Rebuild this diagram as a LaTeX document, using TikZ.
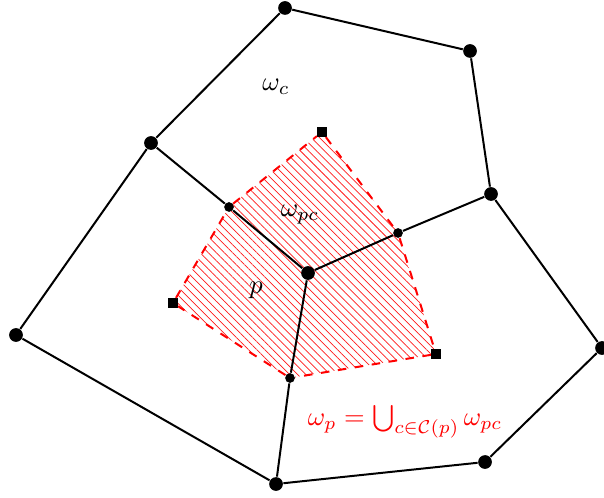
\documentclass[tikz,border=0pt]{standalone}
\usepackage{amsmath,amssymb}
\usepackage{tikz}
\usetikzlibrary{patterns,patterns.meta,backgrounds}
\usepackage{xcolor}

\begin{document}
\begin{tikzpicture}[x=0.35pt,y=-0.35pt,
    edge/.style={black,line width=0.7pt},
    dualedge/.style={red,line width=0.7pt,dashed},
    vertex/.style={circle,fill=black,inner sep=0pt,minimum size=4.8pt},
    midpt/.style={circle,fill=black,inner sep=0pt,minimum size=3.4pt},
    bary/.style={rectangle,fill=black,inner sep=0pt,minimum size=3.2pt},
    lbl/.style={scale=0.93}]
    \useasboundingbox (0,0) rectangle (604,497);
    % mesh vertices
    \node[vertex] (a) at (285,8) {};
    \node[vertex] (b) at (470,51) {};
    \node[vertex] (c) at (491,194) {};
    \node[vertex] (d) at (602,348) {};
    \node[vertex] (e) at (485,462) {};
    \node[vertex] (f) at (276,484) {};
    \node[vertex] (g) at (16,335) {};
    \node[vertex] (h) at (151,143) {};
    \node[vertex] (p) at (308,273) {};
    % edge midpoints and cell centres
    \node[midpt] (mh) at (229,207) {};
    \node[midpt] (mc) at (398,233) {};
    \node[midpt] (mf) at (290,378) {};
    \node[bary] (s1) at (322,132) {};
    \node[bary] (s2) at (436,354) {};
    \node[bary] (s3) at (173,303) {};
    % dual cell, hatched
    \begin{scope}[on background layer]
        \fill[pattern={Lines[angle=-45,distance=2pt,line width=0.25pt]},pattern color=red!90]
            (s1.center) -- (mc.center) -- (s2.center) -- (mf.center) --
            (s3.center) -- (mh.center) -- cycle;
    \end{scope}
    % primal edges
    \draw[edge] (a) -- (b) -- (c) -- (d) -- (e) -- (f) -- (g) -- (h) -- (a);
    \draw[edge] (h) -- (mh) -- (p);
    \draw[edge] (c) -- (mc) -- (p);
    \draw[edge] (f) -- (mf) -- (p);
    % dual edges
    \draw[dualedge] (s1) -- (mc) -- (s2) -- (mf) -- (s3) -- (mh) -- (s1);
    % labels
    \node[lbl] (lc) at (276,87) {$\omega_c$};
    \node[lbl] (lpc) at (300,215) {$\omega_{pc}$};
    \node[lbl] (lp) at (256,290) {$p$};
    \node[lbl,red] (lunion) at (405,422) {$\omega_p = \bigcup_{c\in\mathcal{C}(p)} \omega_{pc}$};
\end{tikzpicture}
\end{document}
